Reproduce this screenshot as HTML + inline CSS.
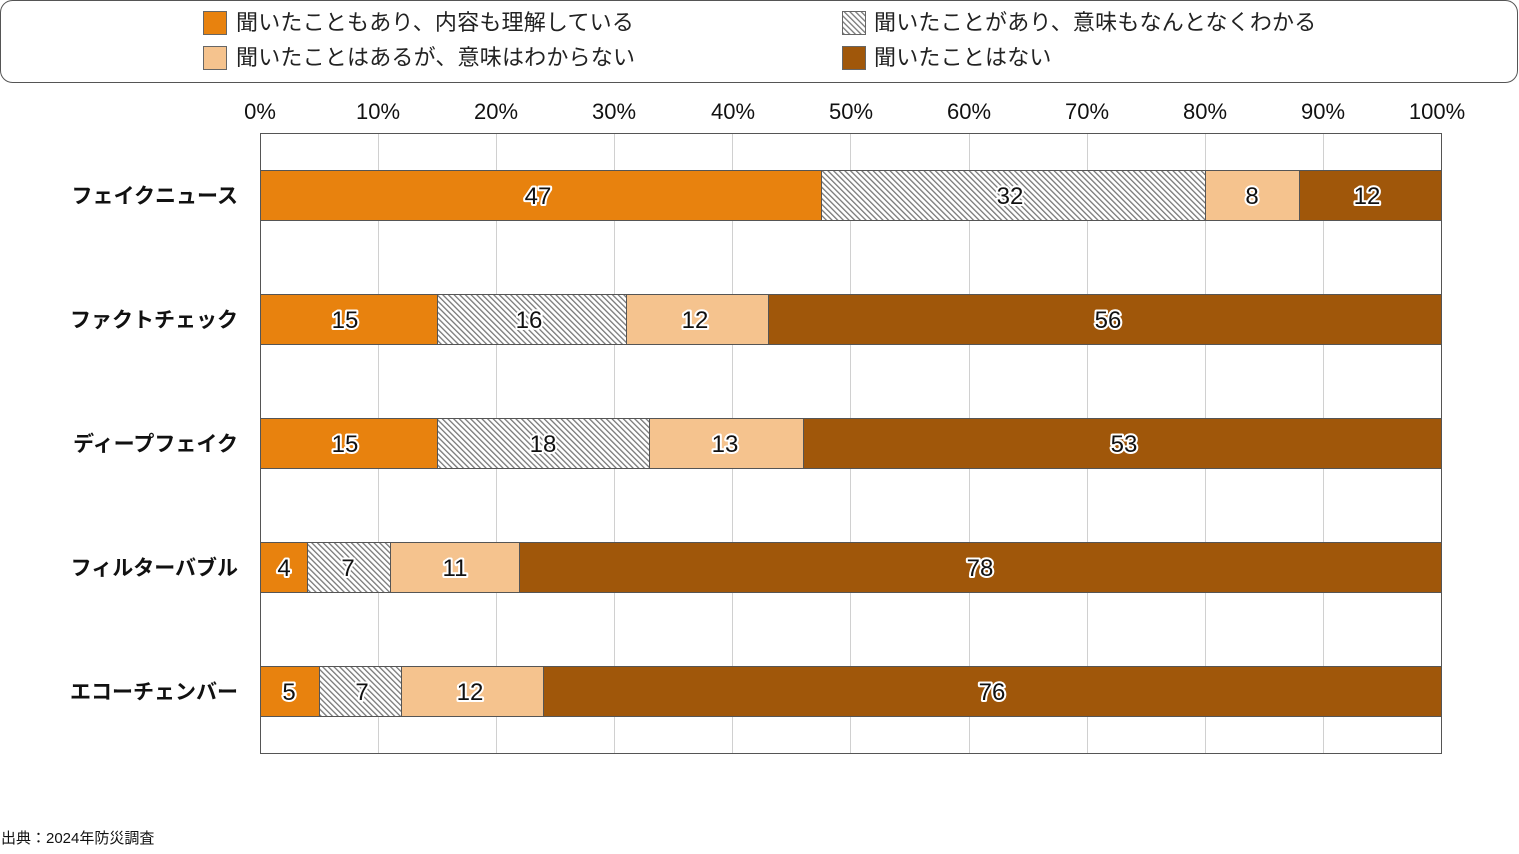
<!DOCTYPE html>
<html><head><meta charset="utf-8"><style>
body{margin:0;background:#fff}
svg text{font-family:"Liberation Sans","Noto Sans CJK JP",sans-serif}
</style></head><body>
<svg width="1519" height="849" viewBox="0 0 1519 849" xmlns="http://www.w3.org/2000/svg">
<defs>
<pattern id="h" patternUnits="userSpaceOnUse" width="4" height="4" patternTransform="rotate(-45)">
<rect width="4" height="4" fill="#fff"/><rect x="0" y="0" width="1.3" height="4" fill="#777"/>
</pattern>
</defs>
<rect x="0.5" y="0.5" width="1517" height="82" rx="12" fill="#fff" stroke="#555"/>
<g font-size="22" fill="#222" letter-spacing="0.2">
<rect x="203.5" y="11.5" width="23" height="23" fill="#E8820E" stroke="#666"/><text x="236" y="30">聞いたこともあり、内容も理解している</text>
<rect x="203.5" y="46.5" width="23" height="23" fill="#F5C38E" stroke="#666"/><text x="236" y="65">聞いたことはあるが、意味はわからない</text>
<rect x="842.5" y="11.5" width="23" height="23" fill="url(#h)" stroke="#666"/><text x="874" y="30">聞いたことがあり、意味もなんとなくわかる</text>
<rect x="842.5" y="46.5" width="23" height="23" fill="#A0570A" stroke="#666"/><text x="874" y="65">聞いたことはない</text>
</g>
<g stroke="#d0d0d0" stroke-width="1">
<line x1="378.5" y1="133" x2="378.5" y2="753"/><line x1="496.5" y1="133" x2="496.5" y2="753"/>
<line x1="614.5" y1="133" x2="614.5" y2="753"/><line x1="732.5" y1="133" x2="732.5" y2="753"/>
<line x1="850.5" y1="133" x2="850.5" y2="753"/><line x1="969.5" y1="133" x2="969.5" y2="753"/>
<line x1="1087.5" y1="133" x2="1087.5" y2="753"/><line x1="1205.5" y1="133" x2="1205.5" y2="753"/>
<line x1="1323.5" y1="133" x2="1323.5" y2="753"/>
</g>
<rect x="260.5" y="133.5" width="1181" height="620" fill="none" stroke="#555"/>
<g font-size="22" fill="#111" text-anchor="middle">
<text x="260" y="119">0%</text><text x="378" y="119">10%</text><text x="496" y="119">20%</text>
<text x="614" y="119">30%</text><text x="733" y="119">40%</text><text x="851" y="119">50%</text>
<text x="969" y="119">60%</text><text x="1087" y="119">70%</text><text x="1205" y="119">80%</text>
<text x="1323" y="119">90%</text><text x="1437" y="119">100%</text>
</g>
<g font-size="21" font-weight="bold" fill="#111" text-anchor="end">
<text x="238" y="203">フェイクニュース</text>
<text x="238" y="327">ファクトチェック</text>
<text x="238" y="451">ディープフェイク</text>
<text x="238" y="575">フィルターバブル</text>
<text x="238" y="699">エコーチェンバー</text>
</g>
<g stroke="#555" stroke-width="1">
<rect x="260.5" y="170.5" width="561" height="50" fill="#E8820E"/><rect x="821.5" y="170.5" width="384" height="50" fill="url(#h)"/><rect x="1205.5" y="170.5" width="94" height="50" fill="#F5C38E"/><rect x="1299.5" y="170.5" width="142" height="50" fill="#A0570A"/>
<rect x="260.5" y="294.5" width="177" height="50" fill="#E8820E"/><rect x="437.5" y="294.5" width="189" height="50" fill="url(#h)"/><rect x="626.5" y="294.5" width="142" height="50" fill="#F5C38E"/><rect x="768.5" y="294.5" width="673" height="50" fill="#A0570A"/>
<rect x="260.5" y="418.5" width="177" height="50" fill="#E8820E"/><rect x="437.5" y="418.5" width="212" height="50" fill="url(#h)"/><rect x="649.5" y="418.5" width="154" height="50" fill="#F5C38E"/><rect x="803.5" y="418.5" width="638" height="50" fill="#A0570A"/>
<rect x="260.5" y="542.5" width="47" height="50" fill="#E8820E"/><rect x="307.5" y="542.5" width="83" height="50" fill="url(#h)"/><rect x="390.5" y="542.5" width="129" height="50" fill="#F5C38E"/><rect x="519.5" y="542.5" width="922" height="50" fill="#A0570A"/>
<rect x="260.5" y="666.5" width="59" height="50" fill="#E8820E"/><rect x="319.5" y="666.5" width="82" height="50" fill="url(#h)"/><rect x="401.5" y="666.5" width="142" height="50" fill="#F5C38E"/><rect x="543.5" y="666.5" width="898" height="50" fill="#A0570A"/>
</g>
<g font-size="24" fill="#111" stroke="#fff" stroke-width="4" stroke-linejoin="round" paint-order="stroke" text-anchor="middle">
<text x="538" y="204">47</text><text x="1010" y="204">32</text><text x="1252" y="204">8</text><text x="1367" y="204">12</text>
<text x="345" y="328">15</text><text x="529" y="328">16</text><text x="695" y="328">12</text><text x="1108" y="328">56</text>
<text x="345" y="452">15</text><text x="543" y="452">18</text><text x="725" y="452">13</text><text x="1124" y="452">53</text>
<text x="284" y="576">4</text><text x="348" y="576">7</text><text x="455" y="576">11</text><text x="980" y="576">78</text>
<text x="289" y="700">5</text><text x="362" y="700">7</text><text x="470" y="700">12</text><text x="992" y="700">76</text>
</g>
<text x="1" y="843" font-size="15" fill="#111">出典：2024年防災調査</text>
</svg>
</body></html>
